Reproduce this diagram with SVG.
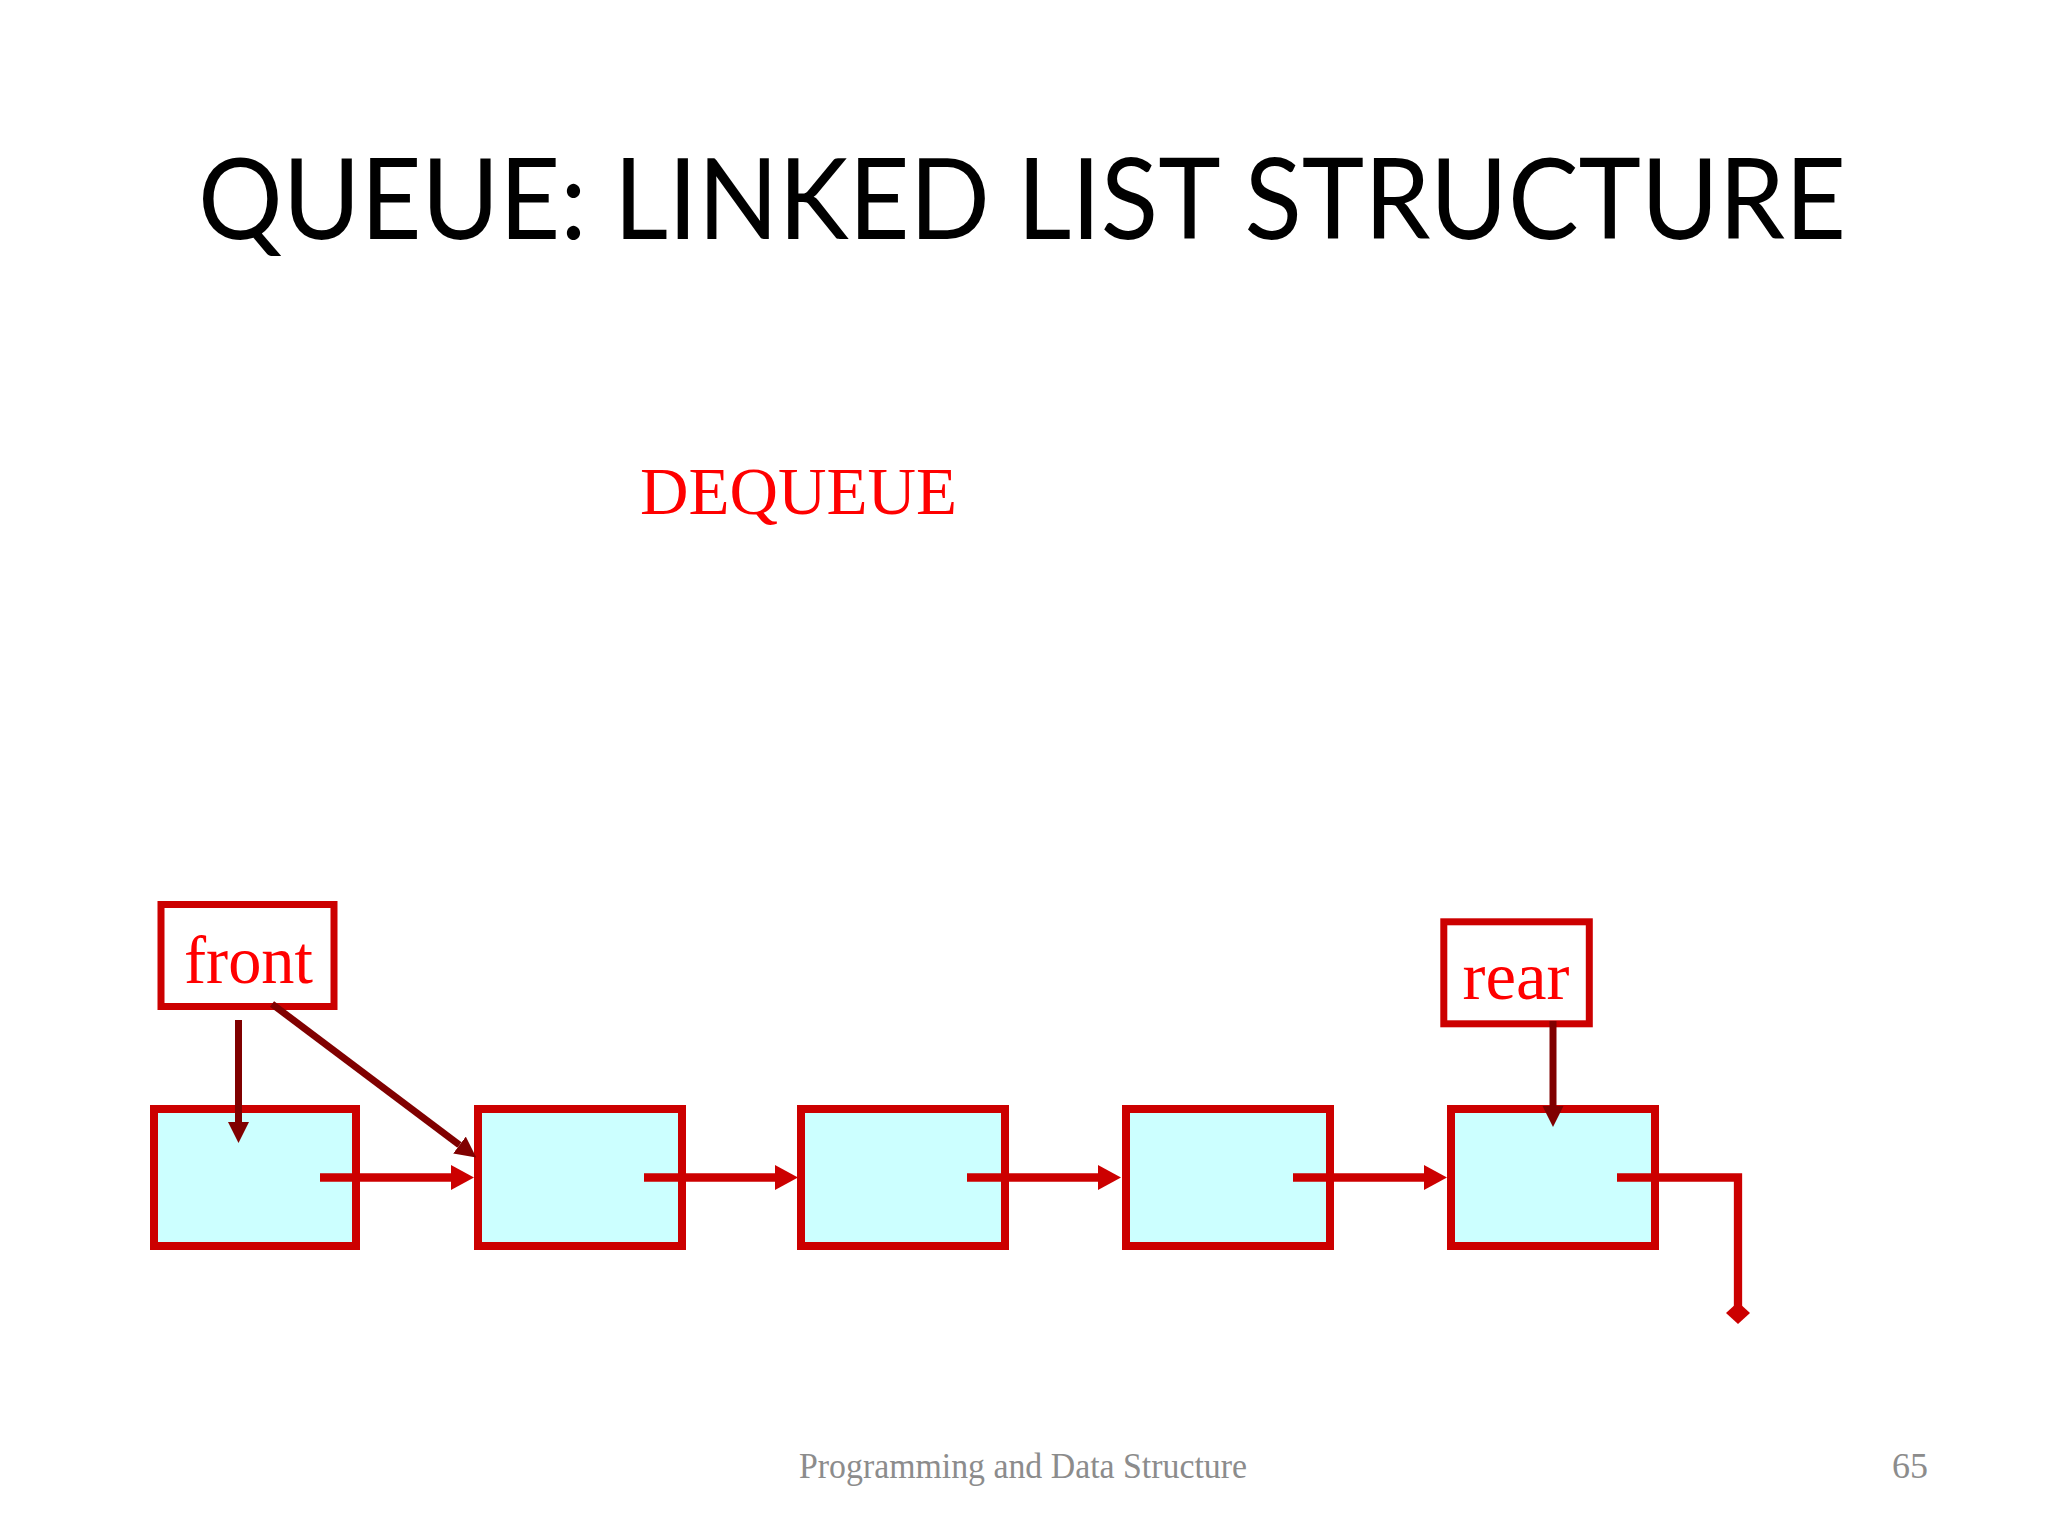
<svg xmlns="http://www.w3.org/2000/svg" width="2048" height="1536" viewBox="0 0 2048 1536">
<style>
.title{font-family:Lato,"Open Sans","Liberation Sans",sans-serif;font-size:112px;fill:#000}
.serif{font-family:"Liberation Serif","Times New Roman",serif}
.red{fill:#FF0000}
.lbl{font-size:67px}
.foot{font-size:36px;fill:#8C8C8C}
.node{fill:#CCFFFF;stroke:#CC0000;stroke-width:8}
.ptrbox{fill:#FFFFFF;stroke:#CC0000;stroke-width:7}
.link{stroke:#CC0000;stroke-width:8.3;fill:none}
.ptr{stroke:#800000;stroke-width:7;fill:none}
</style>
<defs>
<marker id="ahLink" markerUnits="userSpaceOnUse" markerWidth="24" markerHeight="26" refX="0" refY="12.5" orient="auto">
<path d="M0,0 L23,12.5 L0,25 z" fill="#CC0000"/>
</marker>
<marker id="ahPtr" markerUnits="userSpaceOnUse" markerWidth="22" markerHeight="22" refX="0" refY="10.5" orient="auto">
<path d="M0,0 L21,10.5 L0,21 z" fill="#800000"/>
</marker>
<marker id="diamond" markerUnits="userSpaceOnUse" markerWidth="26" markerHeight="24" refX="12" refY="11" orient="0">
<path d="M12,0 L24,11 L12,22 L0,11 z" fill="#CC0000"/>
</marker>
</defs>
<rect width="2048" height="1536" fill="#FFFFFF"/>
<text class="title" x="198" y="239" textLength="1648" lengthAdjust="spacingAndGlyphs">QUEUE: LINKED LIST STRUCTURE</text>
<text class="serif red" x="640" y="514" font-size="67" textLength="317" lengthAdjust="spacingAndGlyphs">DEQUEUE</text>

<g id="front">
<rect class="ptrbox" x="161" y="904.5" width="173" height="102"/>
<text class="serif red lbl" x="184" y="983" textLength="129" lengthAdjust="spacingAndGlyphs">front</text>
</g>
<g id="rear">
<rect class="ptrbox" x="1443.8" y="921.8" width="145.5" height="102"/>
<text class="serif red lbl" x="1462.5" y="999" textLength="107" lengthAdjust="spacingAndGlyphs">rear</text>
</g>

<g id="node1"><rect class="node" x="154" y="1109" width="202" height="137"/></g>
<g id="node2"><rect class="node" x="478" y="1109" width="204" height="137"/></g>
<g id="node3"><rect class="node" x="801" y="1109" width="204" height="137"/></g>
<g id="node4"><rect class="node" x="1126" y="1109" width="204" height="137"/></g>
<g id="node5"><rect class="node" x="1451" y="1109" width="204" height="137"/></g>

<g id="connectors">
<line class="link" x1="320" y1="1177.5" x2="451" y2="1177.5" marker-end="url(#ahLink)"/>
<line class="link" x1="644" y1="1177.5" x2="775" y2="1177.5" marker-end="url(#ahLink)"/>
<line class="link" x1="967" y1="1177.5" x2="1098" y2="1177.5" marker-end="url(#ahLink)"/>
<line class="link" x1="1293" y1="1177.5" x2="1424" y2="1177.5" marker-end="url(#ahLink)"/>
<polyline class="link" points="1617,1177.5 1738,1177.5 1738,1313" marker-end="url(#diamond)"/>
<line class="ptr" x1="238.5" y1="1020" x2="238.5" y2="1122" marker-end="url(#ahPtr)"/>
<line class="ptr" x1="272" y1="1004" x2="459.5" y2="1145" marker-end="url(#ahPtr)"/>
<line class="ptr" x1="1553" y1="1021" x2="1553" y2="1106" marker-end="url(#ahPtr)"/>
</g>

<text class="serif foot" x="799" y="1478" textLength="448" lengthAdjust="spacingAndGlyphs">Programming and Data Structure</text>
<text class="serif foot" x="1892" y="1478">65</text>
</svg>
